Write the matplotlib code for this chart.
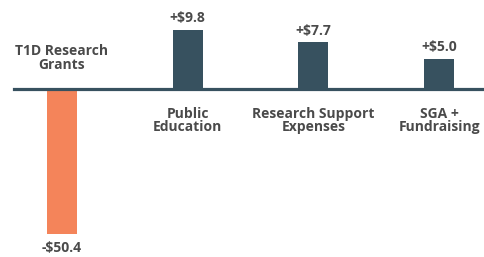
import numpy as np
import matplotlib
matplotlib.use("Agg")
import matplotlib.pyplot as plt

categories = ["T1D Research\nGrants", "Public\nEducation", "Research Support\nExpenses", "SGA +\nFundraising"]
values = [-50.4, 9.8, 7.7, 5.0]
value_labels = ["-$50.4", "+$9.8", "+$7.7", "+$5.0"]

NEG_COLOR = "#F4845A"
POS_COLOR = "#37515F"
TEXT_COLOR = "#4A4A4A"
K = 2.1  # positive values drawn with a larger scale (infographic, not to scale)

def fwd(y):
    y = np.asarray(y, dtype=float)
    return np.where(y >= 0, y * K, y)

def inv(y):
    y = np.asarray(y, dtype=float)
    return np.where(y >= 0, y / K, y)

plt.rcParams['font.family'] = ['Open Sans', 'DejaVu Sans']
fig = plt.figure(figsize=(4.85, 2.57), dpi=100)
ax = fig.add_axes([0, 0, 1, 1])
ax.set_yscale('function', functions=(fwd, inv))

x = np.arange(len(values))
colors = [NEG_COLOR if v < 0 else POS_COLOR for v in values]
ax.bar(x, values, width=0.24, color=colors, zorder=2)
ax.axhline(0, color=POS_COLOR, lw=2.3, xmin=14/485, xmax=1, zorder=3)

FS = 10
for xi, v, vl, cat in zip(x, values, value_labels, categories):
    if v >= 0:
        ax.annotate(vl, (xi, v), xytext=(0, 3), textcoords='offset points',
                    ha='center', va='bottom', fontsize=FS, fontweight='bold', color=TEXT_COLOR)
        ax.annotate(cat, (xi, 0), xytext=(0, -13), textcoords='offset points',
                    ha='center', va='top', fontsize=FS, fontweight='bold', color=TEXT_COLOR,
                    linespacing=0.95)
    else:
        ax.annotate(vl, (xi, v), xytext=(0, -5), textcoords='offset points',
                    ha='center', va='top', fontsize=FS, fontweight='bold', color=TEXT_COLOR)
        ax.annotate(cat, (xi, 0), xytext=(0, 12.5), textcoords='offset points',
                    ha='center', va='bottom', fontsize=FS, fontweight='bold', color=TEXT_COLOR,
                    linespacing=0.95)

ax.set_xlim(-0.493, 3.365)
ax.set_ylim(-58.4, 14.7)
ax.axis('off')
fig.savefig("out.png", dpi=100)
